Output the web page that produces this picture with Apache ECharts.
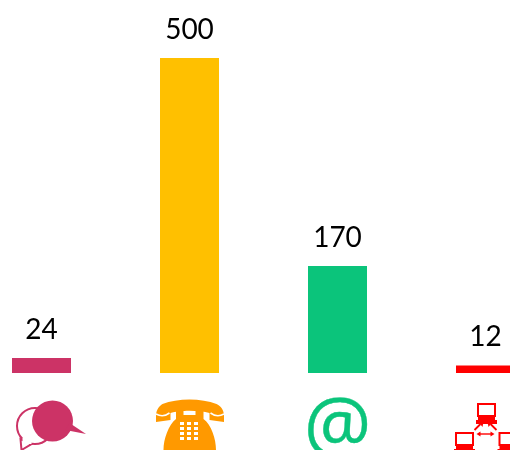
<!DOCTYPE html>
<html><head><meta charset="utf-8">
<script src="https://cdn.jsdelivr.net/npm/echarts@6/dist/echarts.min.js"></script>
<style>html,body{margin:0;padding:0;background:#fff}#c{width:510px;height:450px}</style>
</head><body><div id="c"></div>
<script>
const categories = ['Chat', 'Phone', 'Email', 'Network'];
const values = [24, 500, 170, 12];
const barColors = ['#CC3366', '#FFC000', '#0BC47B', '#FF0000'];
const iconColors = ['#CC3366', '#FF9900', '#0BC47B', '#FF0000'];
const labelFont = 'Lato';

function rect(x,y,w,h,c){return {type:'rect',shape:{x,y,width:w,height:h},style:{fill:c}};}
function poly(points,c){return {type:'polygon',shape:{points},style:{fill:c}};}
function line(a,b,c,w){return {type:'line',shape:{x1:a[0],y1:a[1],x2:b[0],y2:b[1]},style:{stroke:c,lineWidth:w}};}

function drawChat(cx, by, c) {
  const x = v => cx + v, y = v => by + v;
  return [
    {type:'polygon',shape:{points:[[x(-21),y(66)],[x(-20),y(77)],[x(-10),y(71)]]},style:{fill:'#fff',stroke:c,lineWidth:2}},
    {type:'circle',shape:{cx:x(-6.5),cy:y(53),r:18},style:{fill:'#fff',stroke:c,lineWidth:2}},
    rect(x(-19),y(65),9,6,'#fff'),
    {type:'circle',shape:{cx:x(11),cy:y(48),r:20.5},style:{fill:c}},
    poly([[x(28),y(50)],[x(44.5),y(61)],[x(24),y(57)]],c)
  ];
}
function drawPhone(cx, by, c) {
  const x = v => cx + v, y = v => by + v;
  const out = [
    {type:'path',shape:{pathData:`M${x(-33.5)} ${y(49)} L${x(-33.5)} ${y(42)} C${x(-33)} ${y(36)} ${x(-30)} ${y(33)} ${x(-27)} ${y(31)} C${x(-12)} ${y(25)} ${x(12)} ${y(25)} ${x(27)} ${y(31)} C${x(31)} ${y(33)} ${x(34)} ${y(36)} ${x(34.5)} ${y(42)} L${x(34.5)} ${y(49)} L${x(20)} ${y(47)} L${x(20)} ${y(40)} C${x(10)} ${y(37)} ${x(-10)} ${y(37)} ${x(-19)} ${y(40)} L${x(-19)} ${y(47)} Z`},style:{fill:c}},
    {type:'path',shape:{pathData:`M${x(-33.5)} ${y(41)} C${x(-28)} ${y(44)} ${x(-24)} ${y(43)} ${x(-20)} ${y(40)}`},style:{fill:'none',stroke:'#fff',lineWidth:1.6}},
    {type:'path',shape:{pathData:`M${x(34.5)} ${y(41)} C${x(29)} ${y(44)} ${x(25)} ${y(43)} ${x(21)} ${y(40)}`},style:{fill:'none',stroke:'#fff',lineWidth:1.6}},
    {type:'path',shape:{pathData:`M${x(-13.5)} ${y(38)} L${x(-6)} ${y(38)} L${x(-6)} ${y(42)} L${x(6)} ${y(42)} L${x(6)} ${y(38)} L${x(14)} ${y(38)} L${x(14)} ${y(46)} C${x(22)} ${y(52)} ${x(26.5)} ${y(66)} ${x(26.5)} ${y(77)} L${x(-26)} ${y(77)} C${x(-26)} ${y(66)} ${x(-21)} ${y(52)} ${x(-13.5)} ${y(46)} Z`},style:{fill:c}}
  ];
  for (let r = 0; r < 4; r++) for (let k = 0; k < 3; k++)
    out.push(rect(x(-9.5 + k * 7), y(49 + r * 5), 4, 3, '#fff'));
  return out;
}
function drawAt(cx, by, c) {
  return [{type:'text',x:cx,y:by+19,style:{text:'@',fill:c,stroke:c,lineWidth:0.4,font:'400 75px "Open Sans"',textAlign:'center',textVerticalAlign:'top'}}];
}
function monitor(x0,y0,c){
  return [
    {type:'rect',shape:{x:x0+1,y:y0+1,width:17,height:12},style:{fill:'#fff',stroke:c,lineWidth:2}},
    rect(x0+1,y0+14,17,3,c),
    rect(x0-1,y0+17,21,4,c)
  ];
}
function drawNetwork(cx, by, c) {
  const x = v => cx + v, y = v => by + v;
  return [
    ...monitor(x(-8.5),y(30),c),
    ...monitor(x(-30.5),y(59),c),
    ...monitor(x(13),y(59),c),
    line([x(-11),y(57)],[x(-5),y(51)],c,1.8),
    poly([[x(-7),y(49)],[x(-2),y(49)],[x(-3),y(54)]],c),
    line([x(11),y(57)],[x(5),y(51)],c,1.8),
    poly([[x(7),y(49)],[x(2),y(49)],[x(3),y(54)]],c),
    line([x(-7),y(61)],[x(7),y(61)],c,1.4),
    poly([[x(-9),y(61)],[x(-5),y(58.5)],[x(-5),y(63.5)]],c),
    poly([[x(9),y(61)],[x(5),y(58.5)],[x(5),y(63.5)]],c)
  ];
}
const iconDrawers = [drawChat, drawPhone, drawAt, drawNetwork];

const chart = echarts.init(document.getElementById('c'), null, {renderer:'canvas'});
chart.setOption({
  animation:false,
  backgroundColor:'#fff',
  grid:{left:-32.5, width:592, top:58, height:315, containLabel:false, outerBoundsMode:'none'},
  xAxis:{type:'category', data:categories, show:false},
  yAxis:{type:'value', min:0, max:500, show:false},
  series:[
    {type:'bar', barWidth:59, data:values.map((v,i)=>({value:v,itemStyle:{color:barColors[i]}})),
     label:{show:true, position:'top', distance:14, color:'#000', fontFamily:labelFont, fontSize:28}},
    {type:'custom', clip:false, silent:true, data:categories.map((_,i)=>[i,0]),
     renderItem:(params,api)=>{
       const i = api.value(0);
       const p = api.coord([i, api.value(1)]);
       return {type:'group', children: iconDrawers[i](p[0], p[1], iconColors[i])};
     }}
  ]
});
</script></body></html>
